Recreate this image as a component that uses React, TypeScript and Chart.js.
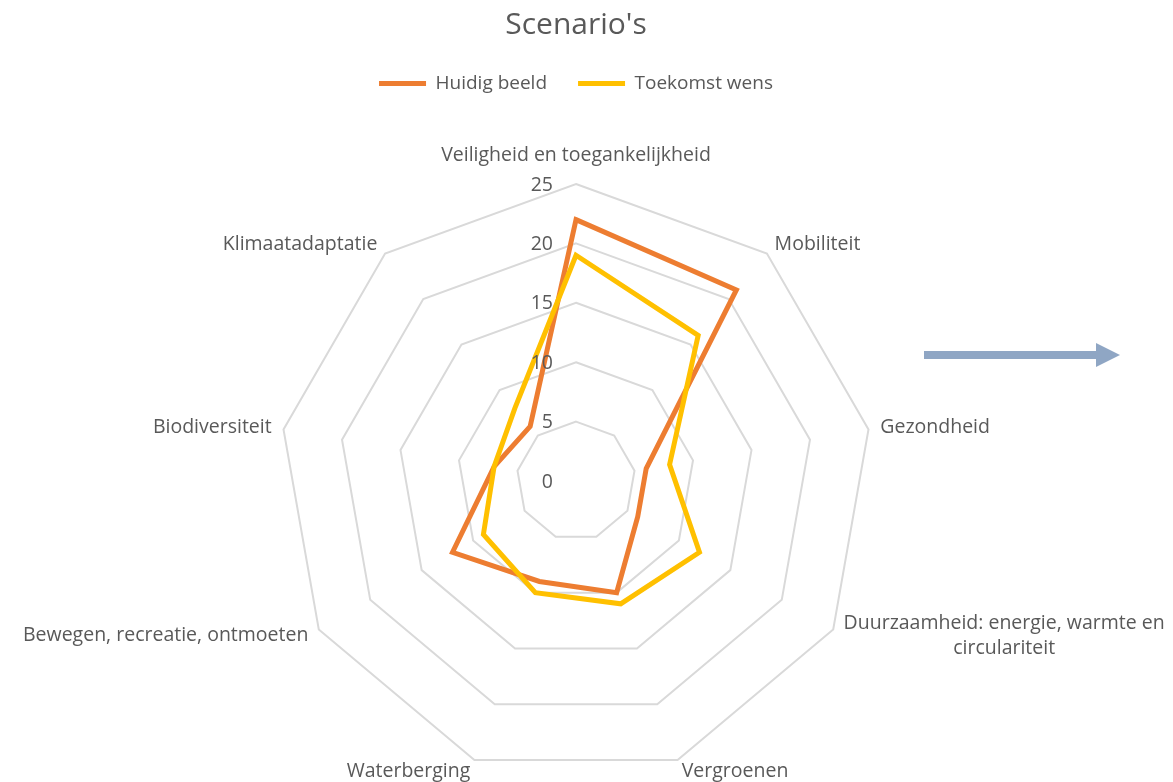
import React, { useEffect, useRef } from 'react';
import { Chart, registerables } from 'chart.js';

Chart.register(...registerables);

const chartTitle = "Scenario's";
const seriesNames = ['Huidig beeld', 'Toekomst wens'];
const categories: (string | string[])[] = [
  'Veiligheid en toegankelijkheid',
  'Mobiliteit',
  'Gezondheid',
  ['Duurzaamheid: energie, warmte en', 'circulariteit'],
  'Vergroenen',
  'Waterberging',
  'Bewegen, recreatie, ontmoeten',
  'Biodiversiteit',
  'Klimaatadaptatie',
];
const huidigBeeld = [22, 21, 6, 6, 10, 9, 12, 7, 6];
const toekomstWens = [19, 16, 8, 12, 11, 10, 9, 7, 8];
const tickValues = [0, 5, 10, 15, 20, 25];

const FONT = "'Open Sans', sans-serif";
const TEXT = '#595959';
const ORANGE = '#ED7D31';
const YELLOW = '#FFC000';
const ARROW = '#8FA6C4';

const radarTextPlugin = {
  id: 'radarText',
  afterDraw(chart: any) {
    const scale = chart.scales.r;
    const ctx: CanvasRenderingContext2D = chart.ctx;
    ctx.save();
    ctx.fillStyle = TEXT;

    // tick labels
    ctx.font = `19.5px ${FONT}`;
    ctx.textAlign = 'right';
    ctx.textBaseline = 'middle';
    tickValues.forEach((v) => {
      const p = scale.getPointPositionForValue(0, v);
      ctx.fillText(String(v), p.x - 23, p.y + 1);
    });

    // point labels
    ctx.font = `19.5px ${FONT}`;
    const labels = chart.data.labels as (string | string[])[];
    labels.forEach((lab, i) => {
      const lines = Array.isArray(lab) ? lab : [lab];
      const a = scale.getIndexAngle(i);
      const p = scale.getPointPosition(i, scale.drawingArea + 12);
      const s = Math.sin(a);
      const c = Math.cos(a);
      const widths = lines.map((l) => ctx.measureText(l).width);
      const maxW = Math.max(...widths);
      let left: number;
      if (s > 0.05) left = p.x;
      else if (s < -0.05) left = p.x - maxW;
      else left = p.x - maxW / 2;
      const lh = 25;
      const blockH = lines.length * lh;
      let cy = p.y;
      if (c > 0.9) cy -= blockH / 2 + 4;
      ctx.textAlign = 'center';
      lines.forEach((l, k) => {
        ctx.fillText(l, left + maxW / 2, cy - blockH / 2 + lh / 2 + k * lh);
      });
    });

    // decorative arrow on the right
    ctx.fillStyle = ARROW;
    ctx.fillRect(924, 351, 174, 8);
    ctx.beginPath();
    ctx.moveTo(1096, 343);
    ctx.lineTo(1120, 355);
    ctx.lineTo(1096, 367);
    ctx.closePath();
    ctx.fill();
    ctx.restore();
  },
};

export default function App() {
  const ref = useRef<HTMLCanvasElement>(null);
  useEffect(() => {
    const chart = new Chart(ref.current as HTMLCanvasElement, {
      type: 'radar',
      data: {
        labels: categories,
        datasets: [
          {
            label: seriesNames[0],
            data: huidigBeeld,
            borderColor: ORANGE,
            backgroundColor: ORANGE,
            borderWidth: 5,
            borderCapStyle: 'round',
            fill: false,
            pointRadius: 0,
            pointHoverRadius: 0,
            pointStyle: 'line',
            order: 1,
          },
          {
            label: seriesNames[1],
            data: toekomstWens,
            borderColor: YELLOW,
            backgroundColor: YELLOW,
            borderWidth: 5,
            borderCapStyle: 'round',
            fill: false,
            pointRadius: 0,
            pointHoverRadius: 0,
            pointStyle: 'line',
            order: 0,
          },
        ],
      } as any,
      options: {
        animation: false,
        responsive: true,
        maintainAspectRatio: false,
        events: [],
        layout: { padding: { top: 0, left: 278, right: 299, bottom: 3 } },
        scales: {
          r: {
            min: 0,
            max: 25,
            afterBuildTicks: (scale: any) => {
              scale.ticks = tickValues.map((v) => ({ value: v }));
            },
            ticks: { display: false, stepSize: 5 },
            grid: { color: '#D9D9D9', lineWidth: 2 },
            angleLines: { display: false },
            pointLabels: { display: false },
          },
        },
        plugins: {
          title: {
            display: true,
            text: chartTitle,
            color: TEXT,
            font: { family: FONT, size: 30, weight: 'normal', lineHeight: 1.2 },
            padding: { top: 7, bottom: 0 },
          },
          subtitle: {
            display: true,
            text: '',
            position: 'top',
            weight: 500,
            font: { size: 10, lineHeight: 1 },
            padding: { top: 71, bottom: 0 },
          },
          legend: {
            display: true,
            position: 'top',
            labels: {
              usePointStyle: true,
              pointStyle: 'line',
              pointStyleWidth: 47,
              padding: 31,
              color: TEXT,
              font: { family: FONT, size: 19 },
              sort: (a: any, b: any) => a.datasetIndex - b.datasetIndex,
            },
          },
          tooltip: { enabled: false },
        },
      } as any,
      plugins: [radarTextPlugin],
    });
    return () => chart.destroy();
  }, []);
  return (
    <div style={{ position: 'fixed', left: 0, top: 0, width: 1173, height: 782, background: '#fff' }}>
      <canvas ref={ref} />
    </div>
  );
}
